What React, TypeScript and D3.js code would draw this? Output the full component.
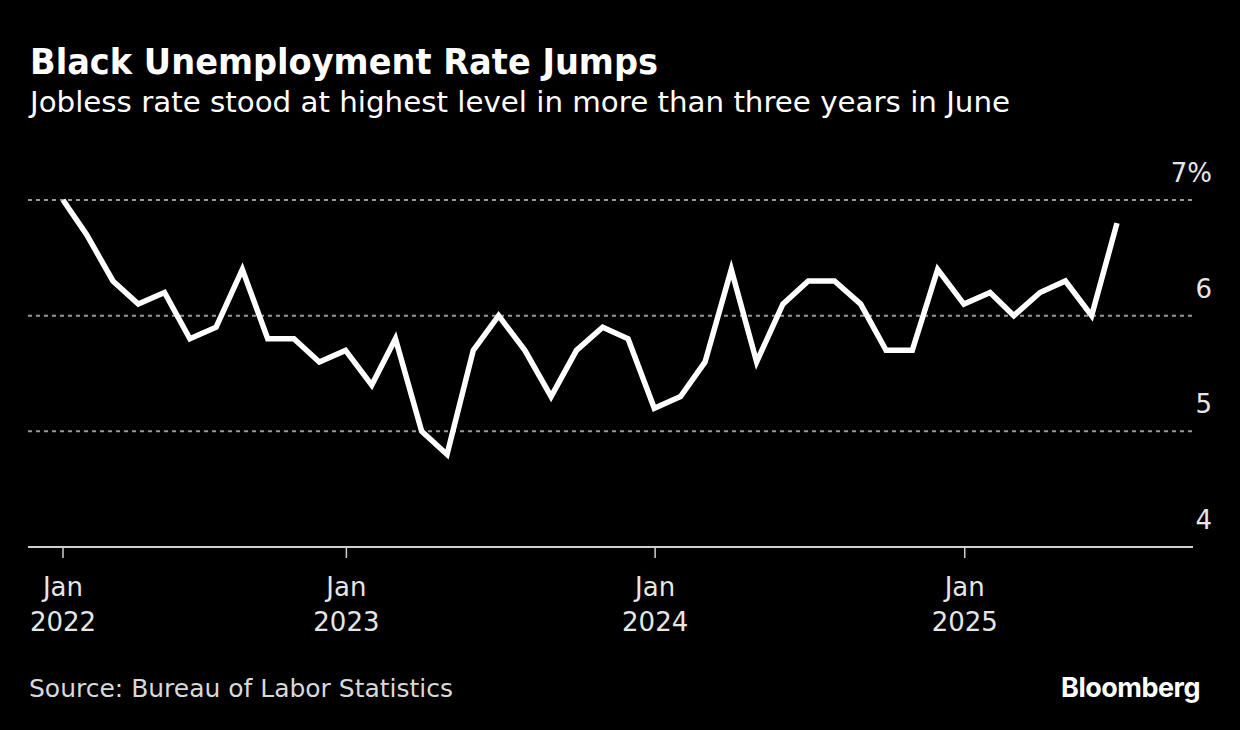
import { useEffect } from 'react';
import * as d3 from 'd3';

// Black unemployment rate, monthly, Jan 2022 - Jun 2025 (%)
const rates = [
  7.0, 6.7, 6.3, 6.1, 6.2, 5.8, 5.9, 6.4, 5.8, 5.8, 5.6, 5.7,
  5.4, 5.8, 5.0, 4.8, 5.7, 6.0, 5.7, 5.3, 5.7, 5.9, 5.8, 5.2,
  5.3, 5.6, 6.4, 5.6, 6.1, 6.3, 6.3, 6.1, 5.7, 5.7, 6.4, 6.1,
  6.2, 6.0, 6.2, 6.3, 6.0, 6.8,
];
const firstMonth = '2022-01';
const yTicks = [4, 5, 6, 7];
const xTickYears = ['2022', '2023', '2024', '2025'];

const title = 'Black Unemployment Rate Jumps';
const subtitle = 'Jobless rate stood at highest level in more than three years in June';
const source = 'Source: Bureau of Labor Statistics';

const W = 1240;
const H = 730;

// month-end dates for each observation
const start = d3.utcParse('%Y-%m')(firstMonth) as Date;
const dates = rates.map((_, i) => d3.utcDay.offset(d3.utcMonth.offset(start, i + 1), -1));
const data = rates.map((v, i) => ({ date: dates[i], value: v }));

const FONT = '"DejaVu Sans", Verdana, sans-serif';

export default function App() {
  useEffect(() => {
    document.body.style.margin = '0';
    document.body.style.background = '#000';
  }, []);

  const x = d3.scaleUtc()
    .domain([dates[0], dates[dates.length - 1]])
    .range([63, 1117]);
  const y = d3.scaleLinear().domain([4, 7]).range([547, 200]);

  const line = d3.line<{ date: Date; value: number }>()
    .x(d => x(d.date))
    .y(d => y(d.value));

  // first tick sits on the first observation, the rest on Jan 1
  const xTicks = xTickYears.map((yr, i) => ({
    year: yr,
    pos: i === 0 ? x(dates[0]) : x(d3.utcParse('%Y')(yr) as Date),
  }));

  const left = 28;
  const right = 1193;

  return (
    <div style={{ position: 'absolute', left: 0, top: 0, width: W, height: H, background: '#000' }}>
      <svg width={W} height={H} style={{ display: 'block' }}>
        <rect width={W} height={H} fill="#000" />

        <text x={30} y={74} fill="#fff" fontFamily={FONT} fontWeight="bold" fontSize={35}
          textLength={628} lengthAdjust="spacingAndGlyphs">{title}</text>
        <text x={30} y={112} fill="#fff" fontFamily={FONT} fontSize={28}
          textLength={980} lengthAdjust="spacingAndGlyphs">{subtitle}</text>

        {/* gridlines and y labels */}
        {yTicks.map(t => (
          <g key={t}>
            {t > 4 && (
              <line x1={left} x2={right} y1={y(t)} y2={y(t)}
                stroke="#999" strokeWidth={2} strokeDasharray="4,4" />
            )}
            <text x={1212} y={y(t) - 18} fill="#e6e6e6" fontFamily={FONT} fontSize={26}
              textAnchor="end">{t === 7 ? '7%' : t}</text>
          </g>
        ))}

        {/* x axis */}
        <line x1={left} x2={right} y1={y(4)} y2={y(4)} stroke="#d0d0d0" strokeWidth={2} />
        {xTicks.map(t => (
          <g key={t.year} transform={`translate(${t.pos},0)`}>
            <line y1={y(4)} y2={y(4) + 11} stroke="#d0d0d0" strokeWidth={1.5} />
            <text y={596} fill="#e6e6e6" fontFamily={FONT} fontSize={26} textAnchor="middle">Jan</text>
            <text y={631} fill="#e6e6e6" fontFamily={FONT} fontSize={26} textAnchor="middle">{t.year}</text>
          </g>
        ))}

        <path d={line(data) ?? ''} fill="none" stroke="#fff" strokeWidth={5.5}
          strokeLinejoin="miter" strokeLinecap="butt" />

        <text x={29} y={697} fill="#d9d9d9" fontFamily={FONT} fontSize={24}
          textLength={424} lengthAdjust="spacingAndGlyphs">{source}</text>
        <text x={1200} y={697} fill="#fff" fontFamily='Inter, "Noto Sans", sans-serif' fontWeight="bold"
          fontSize={27} textAnchor="end" letterSpacing={-0.5}>Bloomberg</text>
      </svg>
    </div>
  );
}
